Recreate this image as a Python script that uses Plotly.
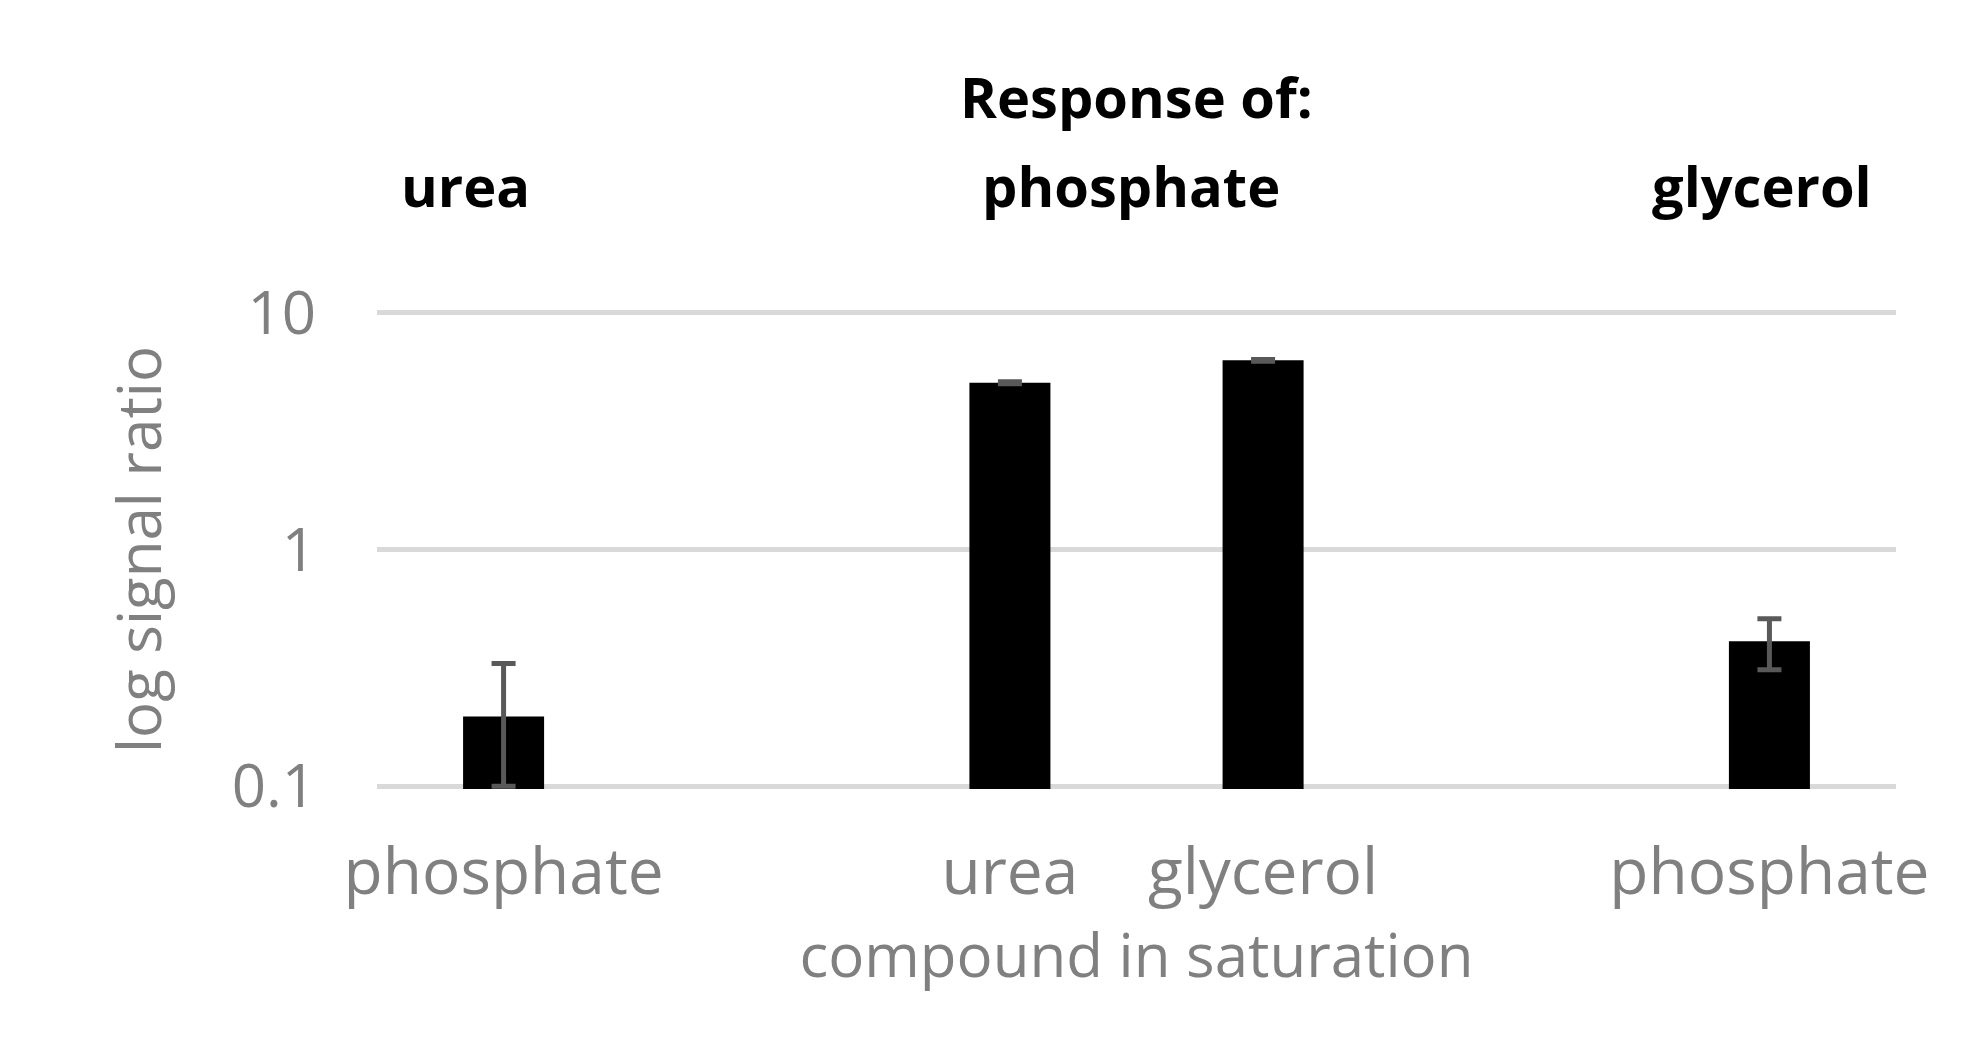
import plotly.graph_objects as go

# data
slots = [0, 1, 2, 3, 4, 5]
tick_labels = ["phosphate", "", "urea", "glycerol", "", "phosphate"]
bar_x = [0, 2, 3, 5]
values = [0.197, 5.07, 6.3, 0.41]
err_plus = [0.133, 0.05, 0.05, 0.10]
err_minus = [0.097, 0.05, 0.05, 0.10]

grey = "#808080"
font = "Open Sans"

fig = go.Figure()
fig.add_trace(go.Bar(
    x=bar_x, y=values, width=0.32,
    marker=dict(color="black", line=dict(width=0)),
    error_y=dict(type="data", symmetric=False, array=err_plus, arrayminus=err_minus,
                 color="#595959", thickness=5, width=12),
))

ann = [
    dict(text="<b>Response of:</b>", x=2.5, y=1.53),
    dict(text="<b>phosphate</b>", x=2.48, y=1.345),
    dict(text="<b>urea</b>", x=-0.15, y=1.345),
    dict(text="<b>glycerol</b>", x=4.97, y=1.345),
]
for a in ann:
    fig.add_annotation(text=a["text"], x=a["x"], y=a["y"], xref="x", yref="paper",
                       showarrow=False, font=dict(family=font, size=56, color="black"))

fig.update_layout(
    width=1964, height=1056,
    plot_bgcolor="white", paper_bgcolor="white",
    margin=dict(l=369, r=76, t=302, b=275),
    showlegend=False,
    xaxis=dict(range=[-0.5, 5.5], tickvals=slots, ticktext=tick_labels,
               showgrid=False, zeroline=False, showline=False, ticks="",
               ticklabelstandoff=40,
               tickfont=dict(family=font, size=64, color=grey),
               title=dict(text="compound in saturation", standoff=5,
                          font=dict(family=font, size=60, color=grey))),
    yaxis=dict(type="log", range=[-1.012, 1.012], tickvals=[0.1, 1, 10], ticktext=["0.1", "1", "10"],
               showgrid=True, gridcolor="#d9d9d9", gridwidth=5, zeroline=False,
               showline=False, ticks="", ticklabelstandoff=60,
               tickfont=dict(family=font, size=60, color=grey),
               title=dict(text="log signal ratio", standoff=50,
                          font=dict(family=font, size=60, color=grey))),
)

fig.write_html("out.html")
